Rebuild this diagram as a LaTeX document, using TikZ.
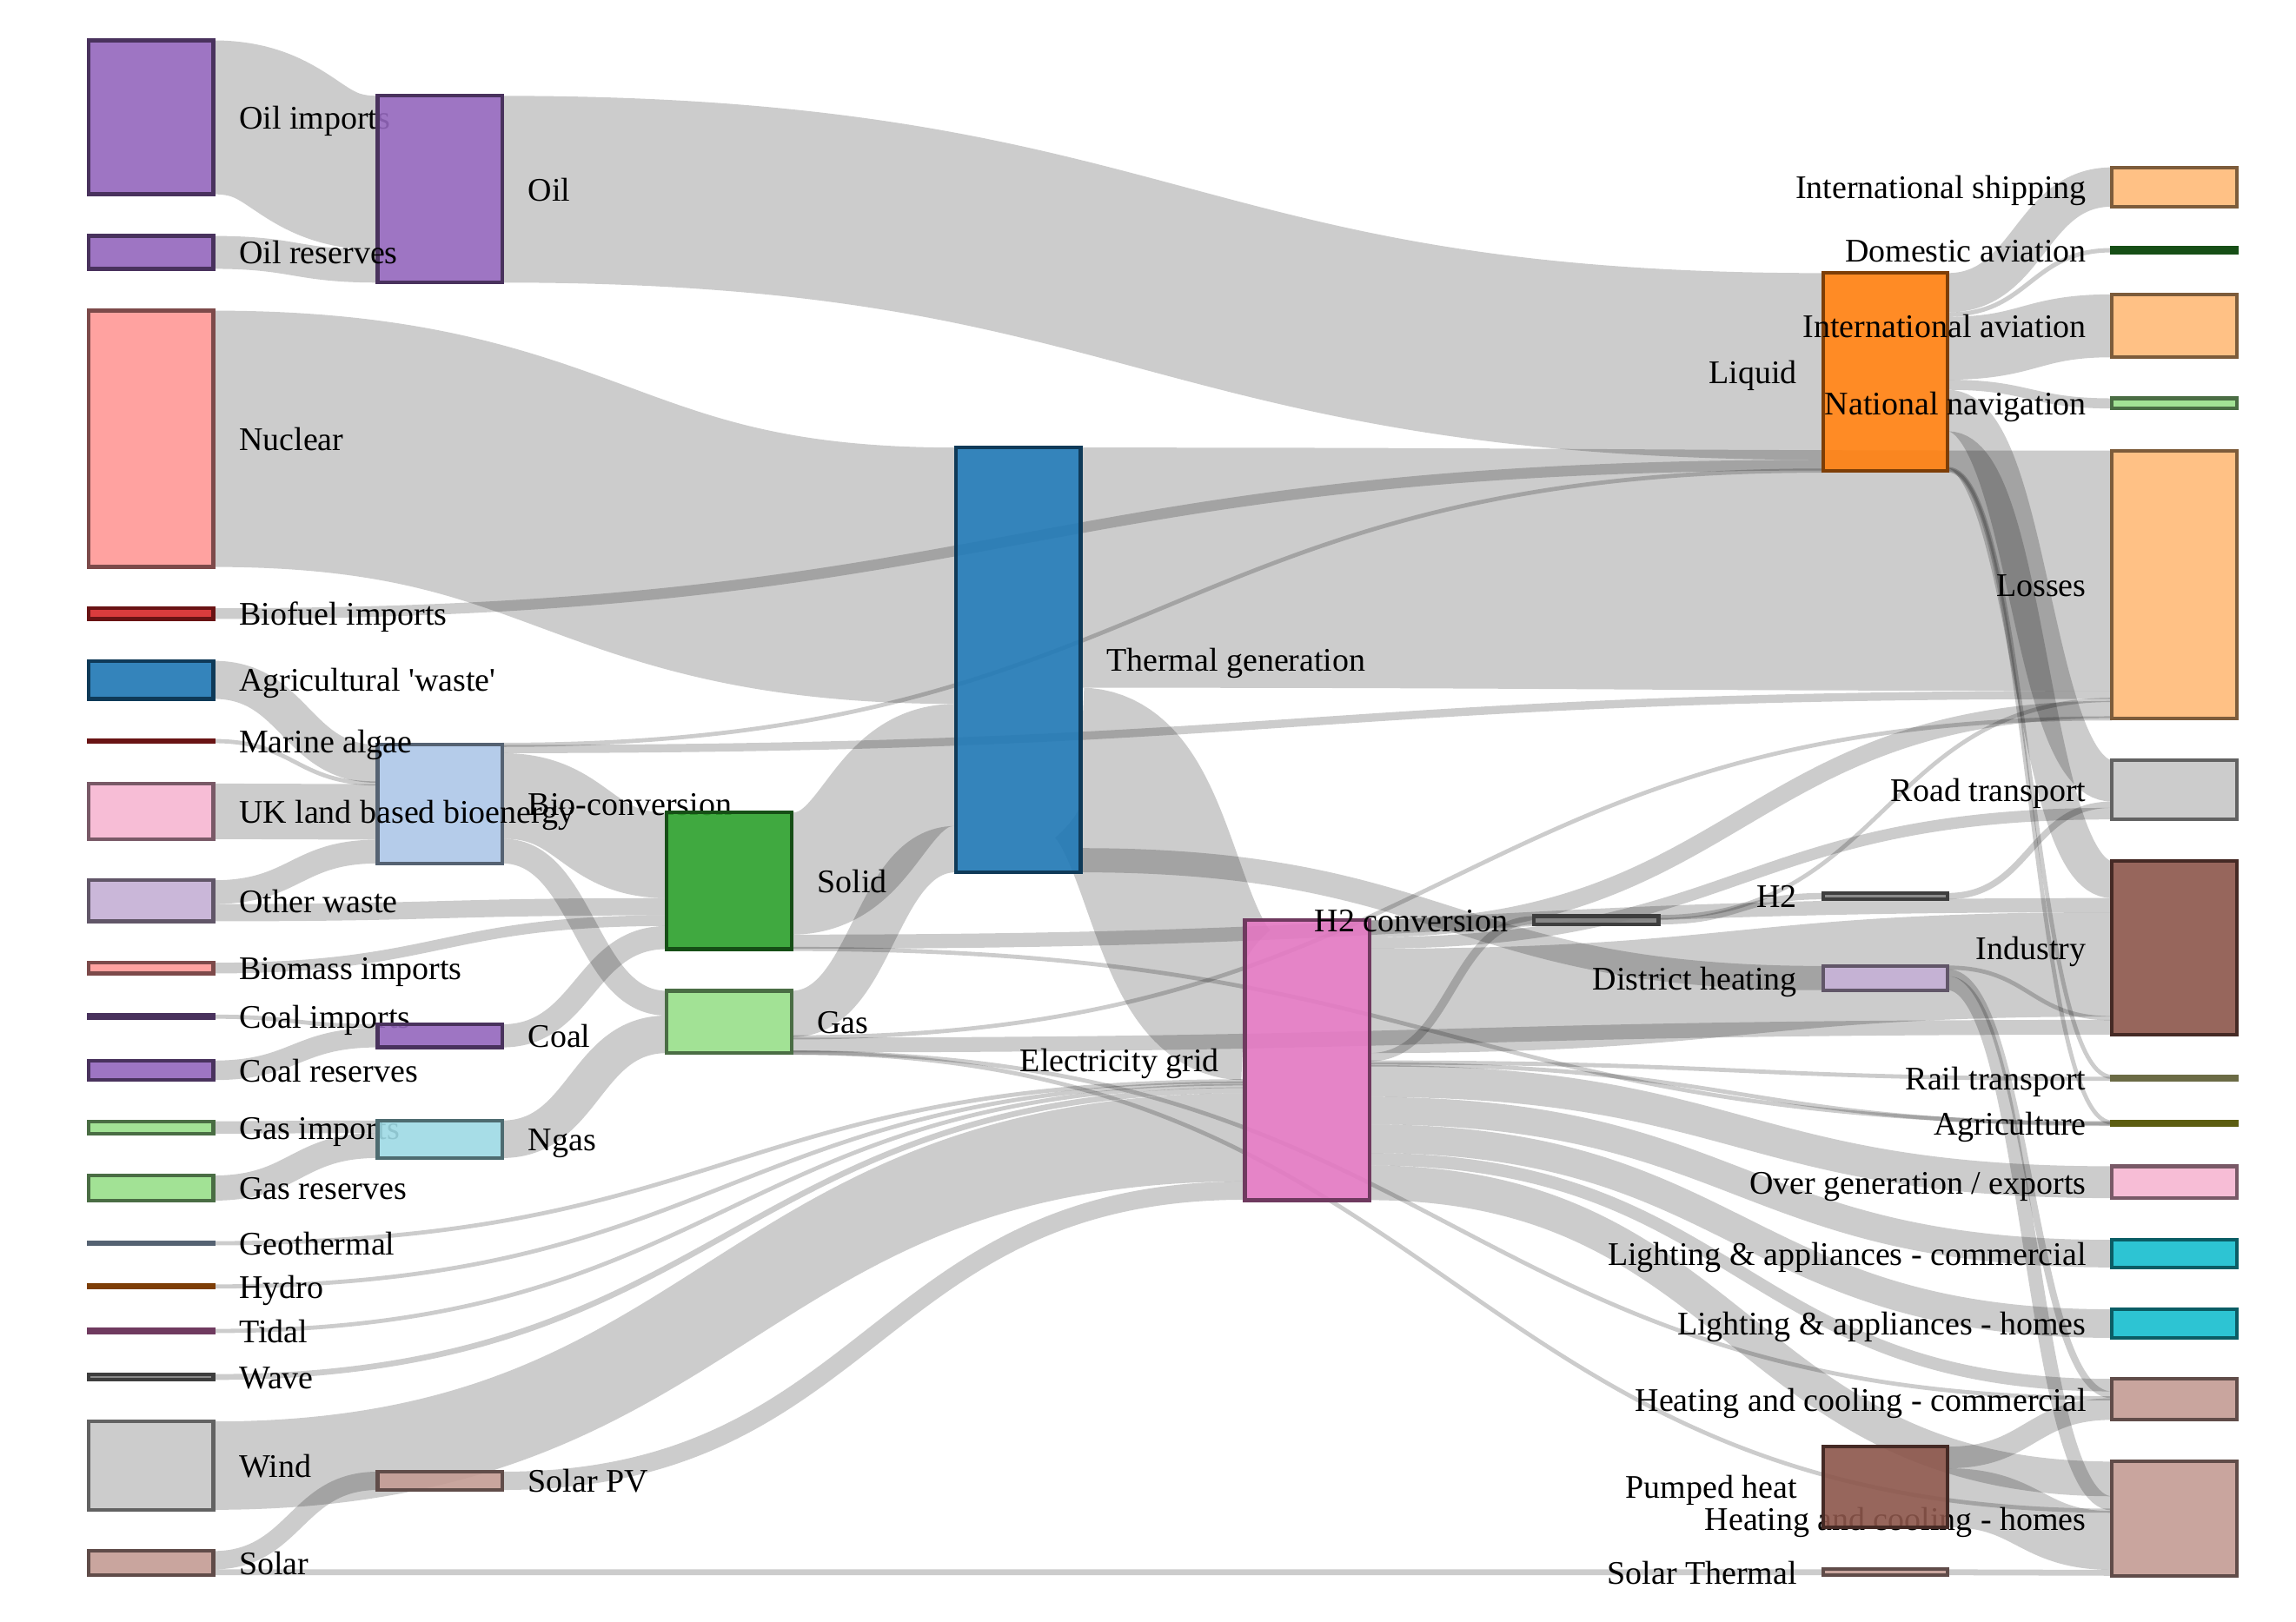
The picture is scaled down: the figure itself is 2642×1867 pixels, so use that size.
\documentclass[tikz,border=0pt]{standalone}
\usepackage{fontspec}
\setmainfont{Liberation Serif}
\definecolor{cBlue}{HTML}{1F77B4}
\definecolor{cLBlue}{HTML}{AEC7E8}
\definecolor{cOrange}{HTML}{FF7F0E}
\definecolor{cLOrange}{HTML}{FFBB78}
\definecolor{cGreen}{HTML}{2CA02C}
\definecolor{cLGreen}{HTML}{98DF8A}
\definecolor{cRed}{HTML}{D62728}
\definecolor{cLRed}{HTML}{FF9896}
\definecolor{cPurple}{HTML}{9467BD}
\definecolor{cLPurple}{HTML}{C5B0D5}
\definecolor{cBrown}{HTML}{8C564B}
\definecolor{cLBrown}{HTML}{C49C94}
\definecolor{cPink}{HTML}{E377C2}
\definecolor{cLPink}{HTML}{F7B6D2}
\definecolor{cGray}{HTML}{7F7F7F}
\definecolor{cLGray}{HTML}{C7C7C7}
\definecolor{cOlive}{HTML}{BCBD22}
\definecolor{cLOlive}{HTML}{DBDB8D}
\definecolor{cCyan}{HTML}{17BECF}
\definecolor{cLCyan}{HTML}{9EDAE5}
\def\KY{0.351}
\newcommand\snkCoord[7]{%
  \pgfmathsetmacro\snkx{102+332.6*#2}%
  \pgfmathsetmacro\snkt{#3-#4*\KY/2}%
  \pgfmathsetmacro\snkr{\snkx+143.5}%
  \coordinate (t#1) at (\snkx,\snkt);%
  \coordinate (s#1) at (\snkr,\snkt);%
}
\newcommand\snkDraw[7]{%
  \pgfmathsetmacro\snkx{102+332.6*#2}%
  \pgfmathsetmacro\snkr{\snkx+143.5}%
  \pgfmathsetmacro\snkh{#4*\KY*0.284528}%
  \pgfmathsetmacro\snklx{ifthenelse(#2<4,\snkr+29,\snkx-29)}%
  \node[nbox, fill=#5, draw=#5!49!black, minimum height=\snkh pt] (n#1) at (t#1) {};%
  \node[lbl#6] (l#1) at (\snklx,#3+13.3) {#7};%
}
\newcommand\LK[6]{%
  \pgfmathsetmacro\lkw{max(4.8,#4*\KY)*0.284528}%
  \pgfmathsetmacro\lka{-(#5+#4/2)*\KY*0.284528}%
  \pgfmathsetmacro\lkb{-(#6+#4/2)*\KY*0.284528}%
  \pgfmathsetmacro\lkd{(#3*332.6-143.5)/2}%
  \draw[lk, line width=\lkw pt] ([yshift=\lka pt]s#1) .. controls +(\lkd,0) and +(-\lkd,0) .. ([yshift=\lkb pt]t#2);%
}
\def\nodelist{%
\snkN{0}{0}{782.5}{124.729}{cBlue}{R}{Agricultural \textquotesingle waste\textquotesingle}
\snkN{1}{1}{925.5}{388.925}{cLBlue}{R}{Bio-conversion}
\snkN{2}{6}{428}{647.587}{cOrange}{L}{Liquid}
\snkN{3}{7}{672.8}{878.325}{cLOrange}{L}{Losses}
\snkN{4}{2}{1013.8}{447.48}{cGreen}{R}{Solid}
\snkN{5}{2}{1176.3}{204.097}{cLGreen}{R}{Gas}
\snkN{6}{0}{706.3}{35}{cRed}{R}{Biofuel imports}
\snkN{7}{0}{1114.3}{35}{cLRed}{R}{Biomass imports}
\snkN{8}{0}{1170.25}{11.606}{cPurple}{R}{Coal imports}
\snkN{9}{1}{1192.3}{75.571}{cPurple}{R}{Coal}
\snkN{10}{0}{1232}{63.965}{cPurple}{R}{Coal reserves}
\snkN{11}{6}{1125.8}{79.329}{cLPurple}{L}{District heating}
\snkN{12}{7}{1091}{568.927}{cBrown}{L}{Industry}
\snkN{13}{7}{1610.75}{134.164}{cLBrown}{L}{Heating and cooling - commercial}
\snkN{14}{7}{1748}{374.295}{cLBrown}{L}{Heating and cooling - homes}
\snkN{15}{4}{1220}{918.607}{cPink}{L}{Electricity grid}
\snkN{16}{7}{1360.75}{104.453}{cLPink}{L}{Over generation / exports}
\snkN{17}{5}{1059.3}{27.14}{cGray}{L}{H2 conversion}
\snkN{18}{7}{909}{194.529}{cLGray}{L}{Road transport}
\snkN{19}{7}{1293}{8.934}{cOlive}{L}{Agriculture}
\snkN{20}{7}{1241}{12.276}{cLOlive}{L}{Rail transport}
\snkN{21}{7}{1443}{90.008}{cCyan}{L}{Lighting \& appliances - commercial}
\snkN{22}{7}{1523.5}{93.494}{cCyan}{L}{Lighting \& appliances - homes}
\snkN{23}{0}{1297.8}{40.719}{cLGreen}{R}{Gas imports}
\snkN{24}{1}{1311.3}{122.952}{cLCyan}{R}{Ngas}
\snkN{25}{0}{1367.5}{82.233}{cLGreen}{R}{Gas reserves}
\snkN{26}{3}{759.5}{1391.99}{cBlue}{R}{Thermal generation}
\snkN{27}{0}{1431}{7.013}{cLBlue}{R}{Geothermal}
\snkN{28}{6}{1031.5}{20.897}{cGray}{L}{H2}
\snkN{29}{0}{1480.75}{6.995}{cOrange}{R}{Hydro}
\snkN{30}{7}{215.25}{128.69}{cLOrange}{L}{International shipping}
\snkN{31}{7}{288}{14.458}{cGreen}{L}{Domestic aviation}
\snkN{32}{7}{375}{206.267}{cLOrange}{L}{International aviation}
\snkN{33}{7}{464.35}{33.218}{cLGreen}{L}{National navigation}
\snkN{34}{0}{853}{4.375}{cRed}{R}{Marine algae}
\snkN{35}{0}{505}{839.978}{cLRed}{R}{Nuclear}
\snkN{36}{0}{135}{504.287}{cPurple}{R}{Oil imports}
\snkN{37}{1}{217.75}{611.99}{cPurple}{R}{Oil}
\snkN{38}{0}{290.5}{107.703}{cPurple}{R}{Oil reserves}
\snkN{39}{0}{1036.85}{134.397}{cLPurple}{R}{Other waste}
\snkN{40}{6}{1711.5}{263.698}{cBrown}{L}{Pumped heat}
\snkN{41}{1}{1704.5}{59.901}{cLBrown}{R}{Solar PV}
\snkN{42}{6}{1809.75}{19.263}{cLBrown}{L}{Solar Thermal}
\snkN{43}{0}{1799.25}{79.164}{cLBrown}{R}{Solar}
\snkN{44}{0}{1532}{9.452}{cPink}{R}{Tidal}
\snkN{45}{0}{933.8}{182.01}{cLPink}{R}{UK land based bioenergy}
\snkN{46}{0}{1585}{19.013}{cGray}{R}{Wave}
\snkN{47}{0}{1687}{289.366}{cLGray}{R}{Wind}
}
\begin{document}
\begin{tikzpicture}[x=0.01cm, y=-0.01cm,
  lk/.style={draw=black, draw opacity=0.2},
  nbox/.style={rectangle, inner sep=0pt, outer sep=0pt, minimum width=1.435cm, anchor=north west, line width=1.2pt, fill opacity=0.9},
  lbl/.style={inner sep=0pt, font=\fontsize{10.8}{13}\selectfont, text=black},
  lblR/.style={lbl, anchor=base west},
  lblL/.style={lbl, anchor=base east}]
\fill[white] (0,0) rectangle (2642,1867);
\useasboundingbox (0,0) rectangle (2642,1867);
\let\snkN\snkCoord
\nodelist
% links
\LK{0}{1}{1}{124.729}{0}{0}
\LK{1}{2}{5}{0.597}{0}{646.99}
\LK{1}{3}{6}{26.862}{0.597}{787.129}
\LK{1}{4}{1}{280.322}{27.459}{0}
\LK{1}{5}{1}{81.144}{307.781}{0}
\LK{6}{2}{6}{35}{0}{611.99}
\LK{7}{4}{2}{35}{0}{336.909}
\LK{8}{9}{1}{11.606}{0}{0}
\LK{10}{9}{1}{63.965}{0}{11.606}
\LK{9}{4}{1}{75.571}{0}{371.909}
\LK{11}{12}{1}{10.639}{0}{509.708}
\LK{11}{13}{1}{22.505}{10.639}{40.858}
\LK{11}{14}{1}{46.184}{33.144}{113.726}
\LK{15}{16}{3}{104.453}{476.068}{0}
\LK{15}{14}{3}{113.726}{804.881}{0}
\LK{15}{17}{1}{27.14}{436.653}{0}
\LK{15}{12}{3}{342.165}{94.488}{167.543}
\LK{15}{18}{3}{37.797}{56.691}{156.732}
\LK{15}{19}{3}{4.412}{471.656}{4.522}
\LK{15}{13}{3}{40.858}{764.023}{0}
\LK{15}{3}{3}{56.691}{0}{820.233}
\LK{15}{20}{3}{7.863}{463.793}{4.413}
\LK{15}{21}{3}{90.008}{580.521}{0}
\LK{15}{22}{3}{93.494}{670.529}{0}
\LK{23}{24}{1}{40.719}{0}{0}
\LK{25}{24}{1}{82.233}{0}{40.719}
\LK{5}{13}{5}{0.129}{201.872}{63.363}
\LK{5}{3}{5}{1.401}{151.891}{876.924}
\LK{5}{26}{1}{151.891}{0}{1240.098}
\LK{5}{14}{5}{2.096}{202.001}{159.91}
\LK{5}{12}{5}{48.58}{153.292}{520.347}
\LK{27}{15}{4}{7.013}{0}{525.531}
\LK{17}{28}{1}{20.897}{6.242}{0}
\LK{17}{3}{2}{6.242}{0}{813.991}
\LK{28}{18}{1}{20.897}{0}{135.835}
\LK{29}{15}{4}{6.995}{0}{532.544}
\LK{2}{12}{1}{121.066}{518.468}{0}
\LK{2}{30}{1}{128.69}{0}{0}
\LK{2}{18}{1}{135.835}{382.633}{0}
\LK{2}{31}{1}{14.458}{128.69}{0}
\LK{2}{32}{1}{206.267}{143.148}{0}
\LK{2}{19}{1}{3.64}{643.947}{0}
\LK{2}{33}{1}{33.218}{349.415}{0}
\LK{2}{20}{1}{4.413}{639.534}{0}
\LK{34}{1}{1}{4.375}{0}{124.729}
\LK{24}{5}{1}{122.952}{0}{81.144}
\LK{35}{26}{3}{839.978}{0}{0}
\LK{36}{37}{1}{504.287}{0}{0}
\LK{38}{37}{1}{107.703}{0}{504.287}
\LK{37}{2}{5}{611.99}{0}{0}
\LK{39}{4}{2}{56.587}{77.81}{280.322}
\LK{39}{1}{1}{77.81}{0}{311.114}
\LK{40}{14}{1}{193.026}{70.672}{162.006}
\LK{40}{13}{1}{70.672}{0}{63.492}
\LK{41}{15}{3}{59.901}{0}{857.37}
\LK{42}{14}{1}{19.263}{0}{355.032}
\LK{43}{42}{6}{19.263}{59.901}{0}
\LK{43}{41}{1}{59.901}{0}{0}
\LK{4}{19}{5}{0.882}{446.597}{3.64}
\LK{4}{26}{1}{400.12}{0}{839.978}
\LK{4}{12}{5}{46.477}{400.12}{121.066}
\LK{26}{15}{1}{525.531}{787.129}{0}
\LK{26}{3}{4}{787.129}{0}{0}
\LK{26}{11}{3}{79.329}{1312.66}{0}
\LK{44}{15}{4}{9.452}{0}{539.539}
\LK{45}{1}{1}{182.01}{0}{129.104}
\LK{46}{15}{4}{19.013}{0}{548.991}
\LK{47}{15}{4}{289.366}{0}{568.004}
% nodes and labels
\let\snkN\snkDraw
\nodelist
\end{tikzpicture}
\end{document}
